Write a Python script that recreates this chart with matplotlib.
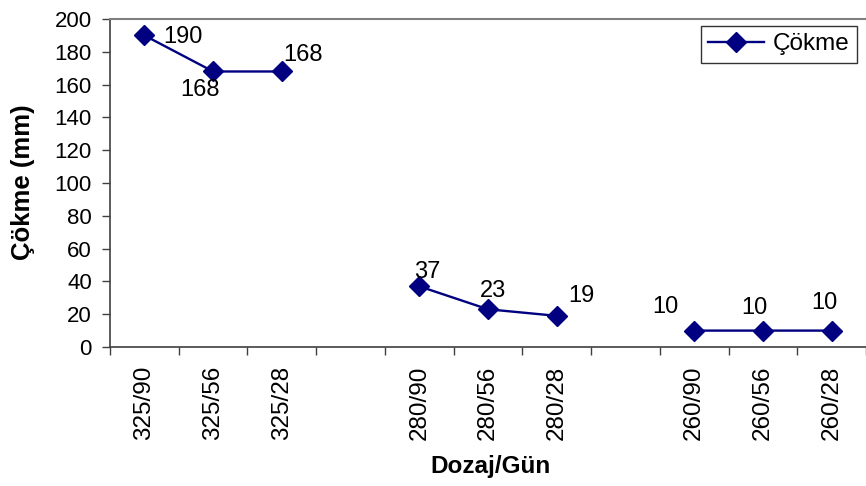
import numpy as np
import matplotlib
matplotlib.use("Agg")
import matplotlib.pyplot as plt

plt.rcParams['font.family'] = ['Liberation Sans', 'DejaVu Sans']

categories = ['325/90', '325/56', '325/28', '', '280/90', '280/56', '280/28', '', '260/90', '260/56', '260/28']
values = [190, 168, 168, np.nan, 37, 23, 19, np.nan, 10, 10, 10]
label_offsets = [(39, -8), (-13, -25), (21, 10), None, (8, 8), (4.5, 12), (24.5, 14), None, (-28.5, 18), (-8.5, 17), (-7.5, 22)]

fig = plt.figure(figsize=(8.66, 4.86), dpi=100)
W, H = 866, 486
left, right, top, bottom = 110, 866, 19, 347
ax = fig.add_axes([left / W, 1 - bottom / H, (right - left) / W, (bottom - top) / H])

x = np.arange(len(categories))
color = '#000080'
ax.plot(x, values, color=color, lw=1.7, marker='D', markersize=10.5, label='Çökme')

for xi, v, off in zip(x, values, label_offsets):
    if off is None or np.isnan(v):
        continue
    ax.annotate(f'{int(v)}', (xi, v), xytext=off, textcoords='offset pixels',
                ha='center', va='baseline', fontsize=17, color='black')

step = 69.4
ax.set_xlim(-0.5, -0.5 + (right - left) / step)
ax.set_ylim(0, 200)
ax.set_yticks(np.arange(0, 201, 20))
ax.set_xticks(x)
ax.set_xticklabels(categories, rotation=90, fontsize=17.5)
ax.set_xticks(np.arange(-0.5, len(categories), 1), minor=True)
ax.tick_params(axis='x', which='major', length=0, pad=13.5)
ax.tick_params(axis='x', which='minor', length=6, width=1, color='#404040', direction='out')
ax.tick_params(axis='y', length=6, width=1, color='#404040', direction='out', labelsize=16, pad=7)

ax.spines['right'].set_visible(False)
ax.spines['top'].set_color('#808080')
ax.spines['top'].set_linewidth(1.5)
ax.spines['left'].set_color('#404040')
ax.spines['bottom'].set_color('#404040')
ax.spines['left'].set_linewidth(1.2)
ax.spines['bottom'].set_linewidth(1.2)

fig.text(490 / W, 1 - 466 / H, 'Dozaj/Gün', ha='center', va='center', fontsize=17.5, fontweight='bold')
fig.text(23 / W, 1 - 182 / H, 'Çökme (mm)', ha='center', va='center', rotation=90, fontsize=18.5, fontweight='bold')

leg = ax.legend(loc='upper left', bbox_to_anchor=((701 - left) / (right - left), 1 - (26 - top) / (bottom - top)),
                frameon=True, fancybox=False, edgecolor='black', fontsize=17.5,
                handlelength=2.3, borderpad=0.3, handletextpad=0.35, borderaxespad=0)
leg.get_frame().set_linewidth(1.0)

fig.savefig('out.png', dpi=100)
